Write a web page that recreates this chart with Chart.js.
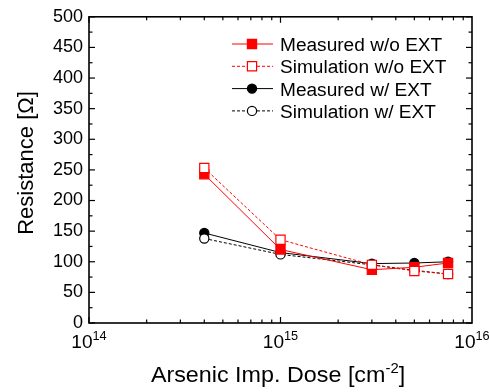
<!DOCTYPE html>
<html><head><meta charset="utf-8">
<script src="https://cdn.jsdelivr.net/npm/chart.js@4"></script>
<style>html,body{margin:0;background:#fff}#wrap{width:489px;height:392px}</style>
</head><body><div id="wrap"><canvas id="c"></canvas></div>
<script>
// dose [cm^-2] and resistance [ohm]
const doses = [4e14, 1e15, 3e15, 5e15, 7.5e15];
const measNoExt = [243, 120, 87, 91, 98];
const simNoExt = [253, 136, 95, 85, 80];
const measExt = [147, 115, 97, 98, 100];
const simExt = [138, 112, 95, 86, 80];
const xDecades = [14, 15, 16];
const yMax = 500, yStep = 50, yMinorStep = 25;
const seriesNames = ['Measured w/o EXT','Simulation w/o EXT','Measured w/ EXT','Simulation w/ EXT'];

const FONT = '"Liberation Sans", Arial, sans-serif';
const SX = 1.06; // text in the original looks a bit stretched sideways
const pts = ys => doses.map((x,i)=>({x, y:ys[i]}));

function ds(label, ys, color, filled, dashed, shape, r, order){
  return {label, data:pts(ys), borderColor:color, backgroundColor:filled?color:'#fff',
    pointBackgroundColor:filled?color:'#fff', pointBorderColor:color, pointBorderWidth:1.2,
    borderWidth:1, borderDash:dashed?[3,2]:[], pointStyle:shape, pointRadius:r, pointHoverRadius:r, order};
}
const datasets = [
  ds(seriesNames[0], measNoExt, '#ff0000', true, false, 'rect', 6.5, 1),
  ds(seriesNames[1], simNoExt, '#ff0000', false, true, 'rect', 6.5, 0),
  ds(seriesNames[2], measExt, '#000', true, false, 'circle', 4.6, 3),
  ds(seriesNames[3], simExt, '#000', false, true, 'circle', 4.6, 2)
];

// parts: [[text, size, rise], ...] drawn in a row, centred (or left) at x
function richText(ctx, parts, x, baseY, align){
  const w = parts.map(p=>{ ctx.font = p[1]+'px '+FONT; return ctx.measureText(p[0]).width; });
  const total = w.reduce((s,v)=>s+v,0);
  ctx.save(); ctx.translate(x, baseY); ctx.scale(SX, 1);
  let cx = align==='left' ? 0 : -total/2;
  ctx.textAlign = 'left'; ctx.textBaseline = 'alphabetic';
  parts.forEach((p,i)=>{ ctx.font = p[1]+'px '+FONT; ctx.fillText(p[0], cx, -(p[2]||0)); cx += w[i]; });
  ctx.restore();
}

function marker(ctx, d, x, y){
  ctx.save(); ctx.setLineDash([]); ctx.lineWidth = d.pointBorderWidth;
  ctx.strokeStyle = d.pointBorderColor; ctx.fillStyle = d.pointBackgroundColor;
  ctx.beginPath();
  if(d.pointStyle==='rect'){ const s = Math.SQRT1_2*d.pointRadius; ctx.rect(x-s,y-s,2*s,2*s); }
  else ctx.arc(x,y,d.pointRadius,0,Math.PI*2);
  ctx.fill(); ctx.stroke(); ctx.restore();
}

const frame = {
  id:'frame',
  afterDraw(chart){
    const {ctx, chartArea:a, scales:{x, y}} = chart;
    ctx.save();
    ctx.strokeStyle = '#000'; ctx.fillStyle = '#000';
    // inward ticks on all four sides
    ctx.lineWidth = 1.2;
    const line = (x1,y1,x2,y2)=>{ ctx.beginPath(); ctx.moveTo(x1,y1); ctx.lineTo(x2,y2); ctx.stroke(); };
    for(let d = xDecades[0]; d < xDecades[xDecades.length-1]; d++){
      for(let m = 1; m <= 9; m++){
        const px = x.getPixelForValue(m*Math.pow(10,d));
        const len = m===1 ? 6 : 3.5;
        line(px, a.bottom, px, a.bottom-len); line(px, a.top, px, a.top+len);
      }
    }
    for(let v = 0; v <= yMax; v += yMinorStep){
      const py = y.getPixelForValue(v);
      const len = v % yStep === 0 ? 6 : 3.5;
      line(a.left, py, a.left+len, py); line(a.right, py, a.right-len, py);
    }
    ctx.lineWidth = 1.6;
    ctx.strokeRect(a.left, a.top, a.right-a.left, a.bottom-a.top);
    // x tick labels 10^n
    xDecades.forEach(d=>richText(ctx, [['10',18],[String(d),12,8]], x.getPixelForValue(Math.pow(10,d)), 348));
    // axis titles
    richText(ctx, [['Arsenic Imp. Dose [cm',22],['-2',14,9],[']',22]], 278, 382);
    ctx.save(); ctx.translate(27, 163); ctx.rotate(-Math.PI/2);
    ctx.font = '22px ' + FONT; ctx.textAlign = 'center'; ctx.textBaseline = 'middle';
    ctx.fillText('Resistance [\u03A9]', 0, 0); ctx.restore();
    // legend
    [0,1,2,3].forEach(i=>{
      const d = chart.data.datasets[i], ly = 44 + i*22.3;
      ctx.save(); ctx.strokeStyle = d.borderColor; ctx.lineWidth = 1; ctx.setLineDash(d.borderDash);
      line(232, ly, 273, ly); ctx.restore();
      marker(ctx, d, 252, ly);
      ctx.fillStyle = '#000';
      richText(ctx, [[d.label,18]], 280, ly + 7, 'left');
    });
    ctx.restore();
  }
};

new Chart(document.getElementById('c'), {
  type:'line',
  data:{datasets},
  options:{
    responsive:true, maintainAspectRatio:false, animation:false,
    layout:{padding:{left:0, top:14, right:17, bottom:69}},
    plugins:{legend:{display:false}, tooltip:{enabled:false}},
    scales:{
      x:{type:'logarithmic', display:false, min:Math.pow(10,xDecades[0]), max:Math.pow(10,xDecades[xDecades.length-1])},
      y:{min:0, max:yMax, afterFit(s){ s.width = 89; },
        grid:{display:false, drawTicks:false}, border:{display:false},
        ticks:{stepSize:yStep, autoSkip:false, padding:6, color:'#000', font:{family:FONT, size:18}}}
    }
  },
  plugins:[frame]
});
</script></body></html>
